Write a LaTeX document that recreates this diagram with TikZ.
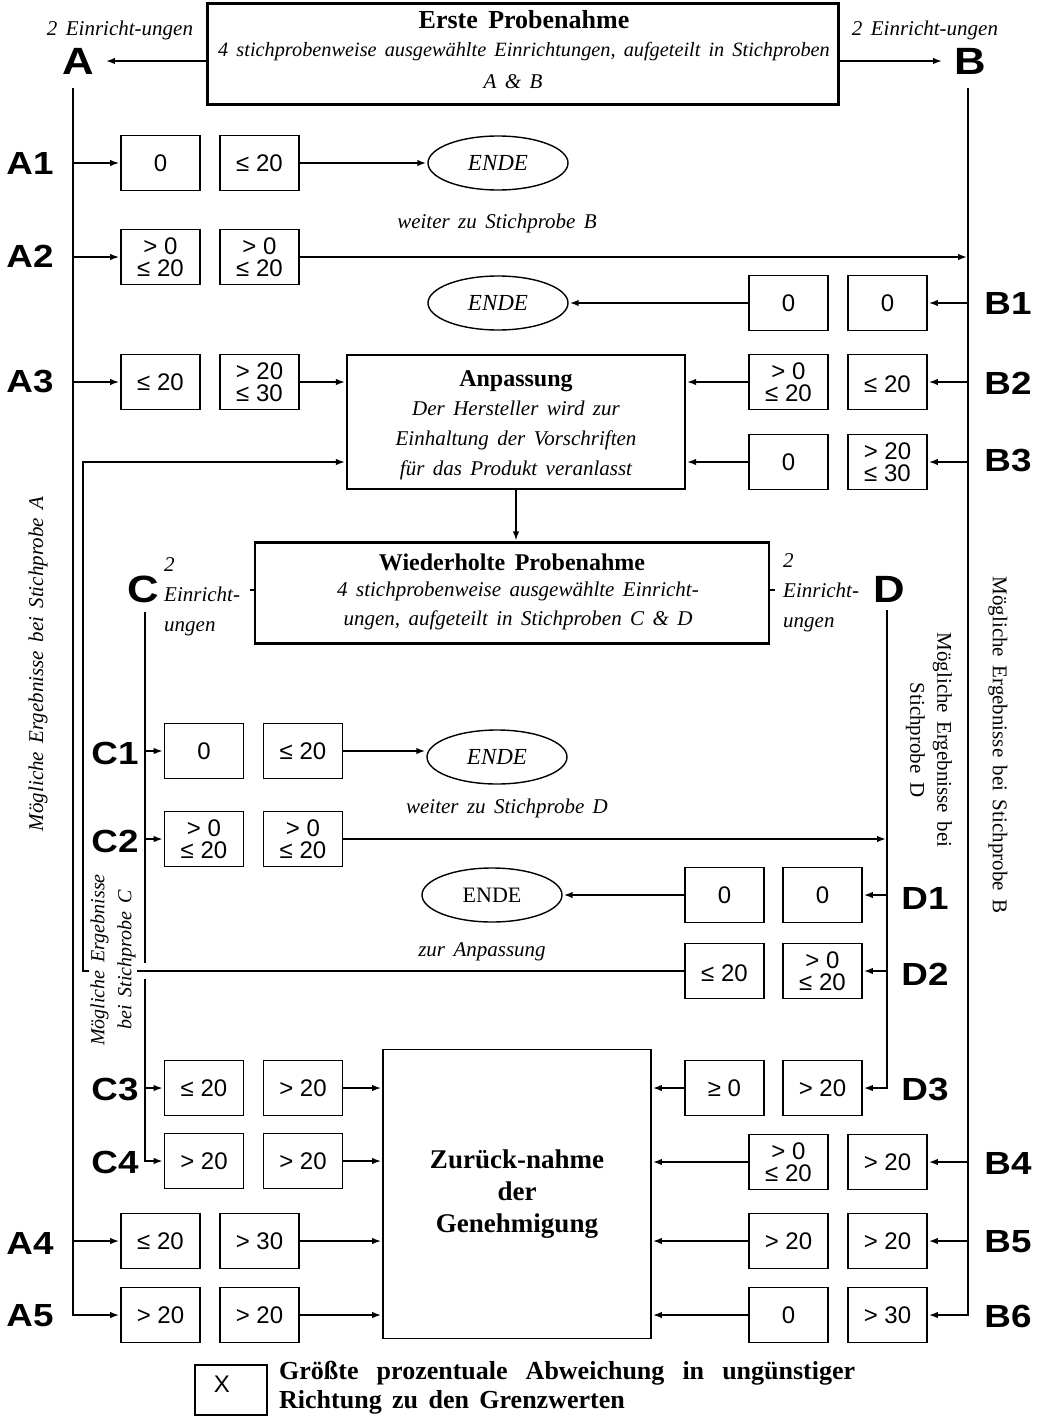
\documentclass[tikz,border=0pt]{standalone}
\usepackage{fontspec}
\setmainfont{Liberation Serif}[WordSpace=1.6]
\setsansfont{Liberation Sans}
\newfontfamily\lblfont[FakeStretch=1.15]{Liberation Sans}
\usetikzlibrary{arrows.meta,shapes.geometric}
\begin{document}
\begin{tikzpicture}[x=1pt,y=-1pt,
  cell/.style={draw, line width=1.7pt, minimum width=79pt, minimum height=55pt, inner sep=0pt,
    align=center, font=\sffamily\fontsize{24}{22}\selectfont},
  lbl/.style={inner sep=0pt, font=\lblfont\bfseries\fontsize{32}{32}\selectfont},
  biglbl/.style={inner sep=0pt, font=\lblfont\bfseries\fontsize{38}{38}\selectfont},
  itx/.style={inner sep=0pt, font=\itshape\fontsize{21}{29}\selectfont},
  rtx/.style={inner sep=0pt, font=\fontsize{21}{27}\selectfont},
  btx/.style={inner sep=0pt, font=\bfseries\fontsize{24}{32}\selectfont},
  endnode/.style={draw, ellipse, line width=1.4pt, inner sep=0pt, minimum width=140pt,
    minimum height=54pt, font=\itshape\fontsize{23}{23}\selectfont},
  bigbox/.style={draw, line width=2.2pt, inner sep=0pt},
  ln/.style={line width=1.6pt},
  arr/.style={ln, -{Latex[length=9pt,width=6.5pt]}, shorten >=1pt}]
\useasboundingbox (0,0) rectangle (1037,1418);

% ---------- main boxes ----------
\node[draw, line width=3pt, minimum width=631pt, minimum height=101pt, inner sep=0pt] (top) at (523,54) {};
\node[btx, font=\bfseries\fontsize{26}{26}\selectfont] (topT) at (524,20) {Erste Probenahme};
\node[itx, font=\itshape\fontsize{20.3}{29}\selectfont] (topL1) at (524,52) {4 stichprobenweise ausgewählte Einrichtungen, aufgeteilt in Stichproben};
\node[itx] (topL2) at (513,82) {A \& B};

\node[bigbox, minimum width=338pt, minimum height=134pt] (anp) at (516,422) {};
\node[btx] (anpT) at (516,381) {Anpassung};
\node[itx, align=center, font=\itshape\fontsize{21}{30}\selectfont] (anpL) at (516,440)
  {Der Hersteller wird zur\\Einhaltung der Vorschriften\\für das Produkt veranlasst};

\node[bigbox, minimum width=514pt, minimum height=101pt] (wied) at (512,593) {};
\node[btx] (wiedT) at (512,562) {Wiederholte Probenahme};
\node[itx, align=center, font=\itshape\fontsize{21}{29}\selectfont] (wiedL) at (518,606)
  {4 stichprobenweise ausgewählte Einricht-\\ungen, aufgeteilt in Stichproben C \& D};

\node[draw, line width=1.8pt, minimum width=268pt, minimum height=289pt, inner sep=0pt,
  align=center, font=\bfseries\fontsize{27}{32}\selectfont] (zur) at (517,1194)
  {Zurück-nahme\\der\\Genehmigung};

% ---------- side labels ----------
\node[itx] (einA) at (120,30) {2 Einricht-ungen};
\node[itx] (einB) at (925,30) {2 Einricht-ungen};
\node[biglbl] (lA) at (78,61) {A};
\node[biglbl] (lB) at (970,61) {B};
\node[biglbl] (lC) at (143,589) {C};
\node[biglbl] (lD) at (889,589) {D};
\node[itx, align=left, anchor=west, font=\itshape\fontsize{21}{30}\selectfont] (einC) at (164,597) {2\\Einricht-\\ungen};
\node[itx, align=left, anchor=west, font=\itshape\fontsize{21}{30}\selectfont] (einD) at (783,593) {2\\Einricht-\\ungen};

\node[lbl] (lA1) at (30,163) {A1};
\node[lbl] (lA2) at (30,256) {A2};
\node[lbl] (lA3) at (30,382) {A3};
\node[lbl] (lA4) at (30,1243) {A4};
\node[lbl] (lA5) at (30,1316) {A5};
\node[lbl] (lB1) at (1008,303) {B1};
\node[lbl] (lB2) at (1008,383) {B2};
\node[lbl] (lB3) at (1008,461) {B3};
\node[lbl] (lB4) at (1008,1163) {B4};
\node[lbl] (lB5) at (1008,1242) {B5};
\node[lbl] (lB6) at (1008,1316) {B6};
\node[lbl] (lC1) at (115,753) {C1};
\node[lbl] (lC2) at (115,841) {C2};
\node[lbl] (lC3) at (115,1089) {C3};
\node[lbl] (lC4) at (115,1162) {C4};
\node[lbl] (lD1) at (925,898) {D1};
\node[lbl] (lD2) at (925,974) {D2};
\node[lbl] (lD3) at (925,1089) {D3};

% ---------- cells ----------
\node[cell] (a1a) at (160.5,163) {0};
\node[cell] (a1b) at (259.5,163) {≤ 20};
\node[cell] (a2a) at (160.5,257) {> 0\\≤ 20};
\node[cell] (a2b) at (259.5,257) {> 0\\≤ 20};
\node[cell] (a3a) at (160.5,382) {≤ 20};
\node[cell] (a3b) at (259.5,382) {> 20\\≤ 30};
\node[cell] (a4a) at (160.5,1241) {≤ 20};
\node[cell] (a4b) at (259.5,1241) {> 30};
\node[cell] (a5a) at (160.5,1315) {> 20};
\node[cell] (a5b) at (259.5,1315) {> 20};

\node[cell] (b1a) at (788.5,303) {0};
\node[cell] (b1b) at (887.5,303) {0};
\node[cell] (b2a) at (788.5,382) {> 0\\≤ 20};
\node[cell] (b2b) at (887.5,382) {\mbox{}\\≤ 20};
\node[cell] (b3a) at (788.5,462) {0};
\node[cell] (b3b) at (887.5,462) {> 20\\≤ 30};
\node[cell] (b4a) at (788.5,1162) {> 0\\≤ 20};
\node[cell] (b4b) at (887.5,1162) {> 20};
\node[cell] (b5a) at (788.5,1241) {> 20};
\node[cell] (b5b) at (887.5,1241) {> 20};
\node[cell] (b6a) at (788.5,1315) {0};
\node[cell] (b6b) at (887.5,1315) {> 30};

\node[cell] (c1a) at (204,751) {0};
\node[cell] (c1b) at (303,751) {≤ 20};
\node[cell] (c2a) at (204,839) {> 0\\≤ 20};
\node[cell] (c2b) at (303,839) {> 0\\≤ 20};
\node[cell] (c3a) at (204,1088) {≤ 20};
\node[cell] (c3b) at (303,1088) {> 20};
\node[cell] (c4a) at (204,1161) {> 20};
\node[cell] (c4b) at (303,1161) {> 20};

\node[cell] (d1a) at (724.5,895) {0};
\node[cell] (d1b) at (822.5,895) {0};
\node[cell] (d2a) at (724.5,971) {\mbox{}\\≤ 20};
\node[cell] (d2b) at (822.5,971) {> 0\\≤ 20};
\node[cell] (d3a) at (724.5,1088) {≥ 0};
\node[cell] (d3b) at (822.5,1088) {> 20};

% ---------- ENDE ----------
\node[endnode] (e1) at (498,163) {ENDE};
\node[endnode] (e2) at (498,303) {ENDE};
\node[endnode] (e3) at (497,757) {ENDE};
\node[endnode, font=\fontsize{22}{22}\selectfont] (e4) at (492,895) {ENDE};

% ---------- texts ----------
\node[itx] (wB) at (497,223) {weiter zu Stichprobe B};
\node[itx] (wD) at (507,808) {weiter zu Stichprobe D};
\node[itx] (zA) at (482,952) {zur Anpassung};

% ---------- trunks ----------
\coordinate (Atop) at (73,88);
\coordinate (Btop) at (968,88);
\coordinate (Ctop) at (145,612);
\coordinate (Dtop) at (887,610);
\coordinate (Cg1) at (145,963);
\coordinate (Cg2) at (145,979);
\coordinate (Rl) at (83,971);
\coordinate (tickC) at (250,590);
\coordinate (tickD) at (775,590);

\draw[arr] (Atop) |- (a5a.west);
\draw[arr] (Btop) |- (b6b.east);
\draw[ln] (Ctop) -- (Cg1);
\draw[arr] (Cg2) |- (c4a.west);
\draw[arr] (Dtop) |- (d3b.east);

\draw[arr, shorten >=12pt] (top.west |- lA) -- (lA.east);
\draw[arr, shorten >=12pt] (top.east |- lB) -- (lB.west);

\foreach \n in {a1a,a2a,a3a,a4a} \draw[arr] (Atop |- \n.west) -- (\n.west);
\foreach \n in {b1b,b2b,b3b,b4b,b5b} \draw[arr] (Btop |- \n.east) -- (\n.east);
\foreach \n in {c1a,c2a,c3a} \draw[arr] (Ctop |- \n.west) -- (\n.west);
\foreach \n in {d1b,d2b} \draw[arr] (Dtop |- \n.east) -- (\n.east);

\draw[arr] (a1b.east) -- (e1.west);
\draw[arr] (a2b.east) -- (Btop |- a2b.east);
\draw[arr] (b1a.west) -- (e2.east);
\draw[arr] (a3b.east) -- (anp.west |- a3b.east);
\draw[arr] (b2a.west) -- (anp.east |- b2a.west);
\draw[arr] (b3a.west) -- (anp.east |- b3a.west);
\draw[arr] (anp.south) -- (anp.south |- wied.north);
\draw[ln] (wied.west |- tickC) -- (tickC);
\draw[ln] (wied.east |- tickD) -- (tickD);
\draw[arr] (c1b.east) -- (c1b.east -| e3.west);
\draw[arr] (c2b.east) -- (Dtop |- c2b.east);
\draw[arr] (d1a.west) -- (e4.east);
\draw[arr] (d2a.west) -- (Rl) |- (anp.west |- b3a.west);
\draw[arr] (d3a.west) -- (zur.east |- d3a.west);
\draw[arr] (c3b.east) -- (zur.west |- c3b.east);
\draw[arr] (c4b.east) -- (zur.west |- c4b.east);
\draw[arr] (a4b.east) -- (zur.west |- a4b.east);
\draw[arr] (a5b.east) -- (zur.west |- a5b.east);
\draw[arr] (b4a.west) -- (zur.east |- b4a.west);
\draw[arr] (b5a.west) -- (zur.east |- b5a.west);
\draw[arr] (b6a.west) -- (zur.east |- b6a.west);

% ---------- rotated texts ----------
\node[itx, rotate=90] (mA) at (38,664) {Mögliche Ergebnisse bei Stichprobe A};
\node[rtx, rotate=-90] (mB) at (998,745) {Mögliche Ergebnisse bei Stichprobe B};
\node[rtx, rotate=-90, align=center] (mD) at (929,740) {Mögliche Ergebnisse bei\\Stichprobe D};
\node[itx, rotate=90, align=center, fill=white, inner sep=1pt, font=\itshape\fontsize{20}{27}\selectfont] (mC) at (113,960) {Mögliche Ergebnisse\\bei Stichprobe C};

% ---------- legend ----------
\node[draw, line width=1.7pt, minimum width=72pt, minimum height=50pt, inner sep=0pt] (leg) at (231,1390) {};
\node[inner sep=0pt, font=\sffamily\fontsize{24}{24}\selectfont] (legX) at (222,1384) {X};
\node[anchor=west, align=justify, text width=576pt, inner sep=0pt, font=\bfseries\fontsize{26}{29}\selectfont] (legT) at (279,1388)
  {\hyphenpenalty=10000 Größte prozentuale Abweichung in ungünstiger\linebreak Richtung zu den Grenzwerten\par};
\end{tikzpicture}
\end{document}
